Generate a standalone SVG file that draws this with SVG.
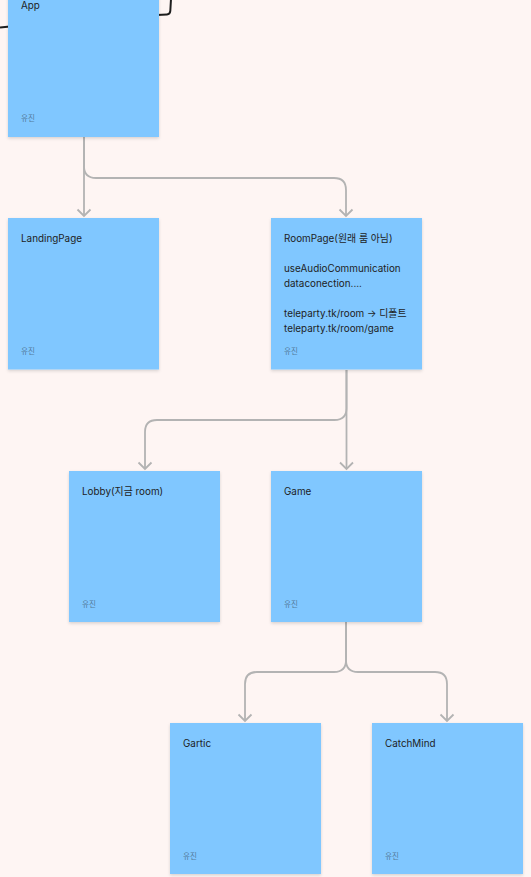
<svg xmlns="http://www.w3.org/2000/svg" width="531" height="877" viewBox="0 0 531 877">
<style>
.note{fill:#80C7FF;filter:url(#sh)}
.t{font-family:Inter,"Noto Sans CJK KR",sans-serif;font-size:9.9px;fill:#1e1e1e}
.a{font-family:Inter,"Noto Sans CJK KR",sans-serif;font-size:7.6px;fill:#1e1e1e;fill-opacity:0.5}
.c{fill:none;stroke:#B3B3B3;stroke-width:1.8}
</style>
<defs>
<filter id="sh" x="-10%" y="-10%" width="120%" height="120%">
<feDropShadow dx="0" dy="1.5" stdDeviation="1.5" flood-color="#000" flood-opacity="0.15"/>
</filter>
<marker id="ah" viewBox="-8 -8 10 16" refX="0" refY="0" markerWidth="10" markerHeight="16" markerUnits="userSpaceOnUse" orient="auto">
<path d="M-6.5 -6.5 L0 0 L-6.5 6.5" fill="none" stroke="#B3B3B3" stroke-width="1.8"/>
</marker>
</defs>
<rect width="531" height="877" fill="#FEF5F3"/>
<g id="connectors">
<path d="M0 27.5 L10 26.5" fill="none" stroke="#1e1e1e" stroke-width="2"/>
<path d="M157 15 L167 14.5 Q170 14.3 170.3 11 L171 -1" fill="none" stroke="#1e1e1e" stroke-width="2"/>
<path class="c" marker-end="url(#ah)" d="M84 137 V216"/>
<path class="c" marker-end="url(#ah)" d="M84 137 V166 Q84 178 96 178 H334 Q346 178 346 190 V216"/>
<path class="c" marker-end="url(#ah)" d="M346.5 370 V469"/>
<path class="c" marker-end="url(#ah)" d="M346.5 370 V408 Q346.5 420 334.5 420 H157 Q145 420 145 432 V469"/>
<path class="c" marker-end="url(#ah)" d="M346 622 V660 Q346 672 334 672 H257 Q245 672 245 684 V721"/>
<path class="c" marker-end="url(#ah)" d="M346 622 V660 Q346 672 358 672 H435 Q447 672 447 684 V721"/>
</g>
<g id="app">
<rect class="note" x="8" y="-14.5" width="151" height="151.5"/>
<text class="t" x="21" y="9">App</text>
<text class="a" x="21" y="121">유진</text>
</g>
<g id="landing">
<rect class="note" x="8" y="218" width="151" height="151.5"/>
<text class="t" x="21" y="242">LandingPage</text>
<text class="a" x="21" y="354">유진</text>
</g>
<g id="roompage">
<rect class="note" x="271" y="218" width="151" height="151.5"/>
<text class="t" x="284" y="242">RoomPage(원래 룸 아님)</text>
<text class="t" x="284" y="272">useAudioCommunication</text>
<text class="t" x="284" y="287">dataconection....</text>
<text class="t" x="284" y="317">teleparty.tk/room → 디폴트</text>
<text class="t" x="284" y="332">teleparty.tk/room/game</text>
<text class="a" x="284" y="354">유진</text>
</g>
<g id="lobby">
<rect class="note" x="69" y="471" width="151" height="151"/>
<text class="t" x="82" y="495">Lobby(지금 room)</text>
<text class="a" x="82" y="607">유진</text>
</g>
<g id="game">
<rect class="note" x="271" y="471" width="151" height="151"/>
<text class="t" x="284" y="495">Game</text>
<text class="a" x="284" y="607">유진</text>
</g>
<g id="gartic">
<rect class="note" x="170" y="723" width="151" height="151"/>
<text class="t" x="183" y="747">Gartic</text>
<text class="a" x="183" y="859">유진</text>
</g>
<g id="catchmind">
<rect class="note" x="372" y="723" width="151" height="151"/>
<text class="t" x="385" y="747">CatchMind</text>
<text class="a" x="385" y="859">유진</text>
</g>
</svg>
